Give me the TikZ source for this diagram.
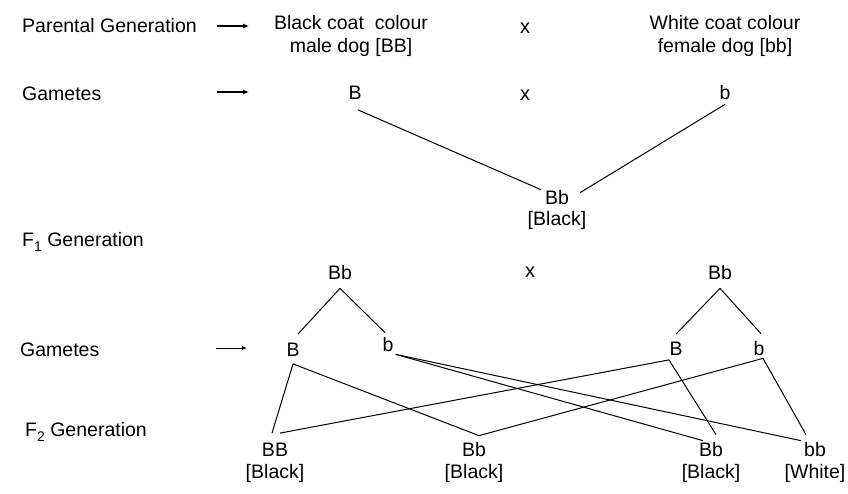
\documentclass[tikz,border=0pt]{standalone}
\usepackage{fontspec}
\setmainfont{Liberation Sans}
\usetikzlibrary{arrows.meta}
\newcommand{\filial}[1]{F\raisebox{-0.28em}{\fontsize{14}{14}\selectfont #1}}

\begin{document}
\begin{tikzpicture}[x=1pt, y=-1pt,
    every node/.style={font=\fontsize{19.5}{23}\selectfont, inner sep=4pt},
    stage/.style={anchor=west, inner sep=0pt},
    pheno/.style={align=center},
    cross/.style={font=\fontsize{20}{23}\selectfont},
    link/.style={line width=1pt},
    pointer/.style={line width=1.1pt, -{Latex[length=6pt, width=5pt]}},
    thinpointer/.style={line width=0.7pt, -{Latex[length=5pt, width=4pt]}}]
\useasboundingbox (0,0) rectangle (848,494);

% parental generation
\node[stage] (pgen) at (22,26) {Parental Generation};
\coordinate (pa1) at (217,26);
\coordinate (pa2) at (249,26);
\draw[pointer] (pa1) -- (pa2);
\node[pheno] (male) at (351,36) {Black coat\ \ colour\\male dog [BB]};
\node[cross] (x1) at (525,28) {x};
\node[pheno] (female) at (725,36) {White coat colour\\female dog [bb]};

% gametes
\node[stage] (gam1) at (22,94) {Gametes};
\coordinate (ga1) at (217,92);
\coordinate (ga2) at (249,92);
\draw[pointer] (ga1) -- (ga2);
\node (pB) at (355,93) {B};
\node[cross] (x2) at (525,95) {x};
\node (pb) at (725,93) {b};

% F1
\node (f1) at (557,198) {Bb};
\node (f1p) at (557,220) {[Black]};
\draw[link] ([xshift=3pt,yshift=-6pt]pB.south) -- ([yshift=-3pt]f1.north west);
\draw[link] (pb.south) -- ([xshift=7pt,yshift=-6pt]f1.north east);

\node[stage] (f1gen) at (22,242) {\filial{1}\ Generation};
\node (f1a) at (340,273) {Bb};
\node[cross] (x3) at (530,272) {x};
\node (f1b) at (720,273) {Bb};

% gametes of F1
\node[stage] (gam2) at (20,350) {Gametes};
\coordinate (gb1a) at (216,348);
\coordinate (gb2a) at (247,348);
\draw[thinpointer] (gb1a) -- (gb2a);
\node (gB1) at (293,350) {B};
\node (gb1) at (388,345) {b};
\node (gB2) at (676,349) {B};
\node (gb2) at (759,349) {b};
\draw[link] ([yshift=-4pt]f1a.south) -- ([xshift=5pt,yshift=5pt]gB1.north);
\draw[link] ([yshift=-4pt]f1a.south) -- ([xshift=-3pt,yshift=1pt]gb1.north);
\draw[link] ([yshift=-4pt]f1b.south) -- ([yshift=4pt]gB2.north);
\draw[link] ([yshift=-4pt]f1b.south) -- ([xshift=2pt,yshift=4pt]gb2.north);

% F2
\node[stage] (f2gen) at (25,432) {\filial{2}\ Generation};
\node (o1) at (275,450) {BB};
\node (o1p) at (275,473) {[Black]};
\node (o2) at (474,450) {Bb};
\node (o2p) at (474,473) {[Black]};
\node (o3) at (711,450) {Bb};
\node (o3p) at (711,473) {[Black]};
\node (o4) at (815,450) {bb};
\node (o4p) at (815,473) {[White]};

\draw[link] ([yshift=-3pt]gB1.south) -- ([xshift=-3pt,yshift=6pt]o1.north);
\draw[link] ([yshift=-3pt]gB1.south) -- ([xshift=5pt,yshift=3pt]o2.north);
\draw[link] ([xshift=-7pt]gB2.south) -- ([xshift=5pt,yshift=6pt]o1.north);
\draw[link] ([xshift=-7pt]gB2.south) -- ([xshift=5pt,yshift=4pt]o3.north);
\draw[link] ([xshift=-2pt,yshift=2pt]gb1.south east) -- ([xshift=8pt,yshift=-2pt]o3.north west);
\draw[link] ([xshift=-2pt,yshift=2pt]gb1.south east) -- ([xshift=1pt,yshift=-2pt]o4.north west);
\draw[link] ([xshift=4pt,yshift=2pt]gb2.south) -- ([xshift=5pt,yshift=3pt]o2.north);
\draw[link] ([xshift=4pt,yshift=2pt]gb2.south) -- ([xshift=-9pt,yshift=4pt]o4.north);
\end{tikzpicture}
\end{document}
